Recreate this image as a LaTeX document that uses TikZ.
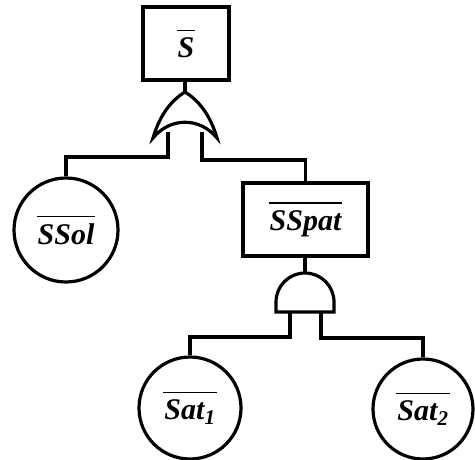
\documentclass[tikz,border=0pt]{standalone}
\usepackage{fontspec}
\setmainfont{Liberation Serif}
% negated event name: text with a bar above it
\newcommand\negev[1]{\leavevmode\vbox{\hrule height 1.8pt\kern 6pt\hbox{\kern1pt#1\kern1pt}}}
\begin{document}
\begin{tikzpicture}[x=1pt,y=-1pt,
  line width=3.2pt, line join=miter,
  lbl/.style={font=\fontsize{30}{34}\selectfont\bfseries\itshape, inner sep=0pt},
  evbox/.style={draw, lbl, minimum width=#1, minimum height=73pt},
  basic/.style={draw, circle, lbl, minimum size=#1},
  gate/.style={draw, fill=white}]
\useasboundingbox (0,0) rectangle (475,459);

% events
\node[evbox=86pt] (top) at (186,43.5) {\negev{S}};
\node[basic=104pt] (ssol) at (66,230) {\negev{SSol}};
\node[evbox=125pt] (sspat) at (305.5,219.5) {\negev{SSpat}};
\node[basic=102pt] (sat1) at (190,408) {\negev{Sat\textsubscript{1}}};
\node[basic=100pt] (sat2) at (423,409) {\negev{Sat\textsubscript{2}}};

% gate anchor points
\coordinate (orTop) at (185,92);
\coordinate (orL) at (168,132);
\coordinate (orR) at (202,132);
\coordinate (andTop) at (305,273);
\coordinate (andL) at (290,305);
\coordinate (andR) at (321,305);

% connectors
\draw (top.south -| orTop) -- (orTop);
\draw (orL) -- (orL |- 0,157) -| (ssol.north);
\draw (orR) -- (orR |- 0,160) -| (sspat.north);
\draw (sspat.south -| andTop) -- (andTop);
\draw (andL) -- (andL |- 0,337) -| (sat1.north);
\draw (andR) -- (andR |- 0,338) -| (sat2.north);

% OR gate
\path[gate] (153,138) .. controls (160,114) and (172,100) .. (185,92)
  .. controls (198,100) and (210,114) .. (217,138)
  .. controls (200,117) and (170,117) .. cycle;
% AND gate
\path[gate] (276,312) -- (276,302) arc[start angle=180, end angle=360, radius=29] -- (334,312) -- cycle;
\end{tikzpicture}
\end{document}
